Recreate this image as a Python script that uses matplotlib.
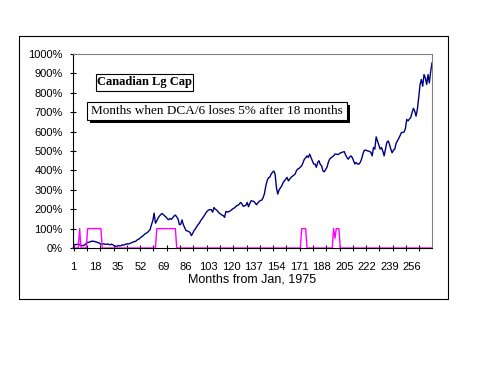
import numpy as np
import matplotlib.pyplot as plt
from matplotlib.patches import Rectangle

# Cumulative growth, Canadian large cap, one value per month from Jan 1975 (percent)
growth = [
    20, 18, 17, 19, 20, 17, 14, 12, 13, 18,
    24, 28, 30, 33, 35, 35, 34, 32, 30, 27,
    25, 18, 20, 22, 20, 19, 21, 18, 17, 20,
    16, 12, 10, 8, 13, 11, 12, 16, 15, 18,
    20, 22, 21, 24, 27, 30, 33, 34, 40, 45,
    48, 55, 60, 65, 72, 76, 80, 88, 95, 120,
    140, 180, 128, 140, 155, 165, 172, 178, 172, 165,
    160, 150, 146, 152, 148, 156, 165, 170, 160, 150,
    120, 122, 145, 120, 105, 90, 88, 85, 80, 64,
    75, 90, 98, 110, 120, 128, 141, 150, 160, 170,
    182, 190, 196, 198, 197, 185, 209, 200, 196, 188,
    180, 175, 170, 167, 158, 189, 185, 187, 190, 195,
    201, 205, 210, 218, 220, 226, 235, 228, 215, 218,
    220, 235, 213, 230, 244, 242, 240, 232, 223, 232,
    240, 245, 247, 260, 281, 320, 346, 362, 365, 381,
    390, 397, 381, 312, 278, 300, 310, 320, 337, 346,
    355, 364, 346, 355, 364, 370, 375, 381, 398, 407,
    410, 418, 424, 440, 458, 465, 475, 467, 484, 467,
    450, 433, 433, 416, 441, 450, 430, 424, 397, 393,
    405, 416, 441, 458, 465, 470, 475, 484, 484, 482,
    484, 490, 492, 495, 497, 480, 467, 458, 468, 475,
    467, 450, 433, 441, 433, 432, 441, 458, 484, 503,
    505, 502, 500, 498, 493, 475, 518, 510, 573, 552,
    530, 510, 518, 500, 475, 510, 544, 552, 535, 510,
    491, 505, 510, 540, 552, 565, 580, 595, 596, 598,
    616, 663, 655, 665, 672, 698, 720, 706, 680, 715,
    775, 843, 869, 834, 894, 877, 843, 894, 851, 910,
    954,
]

# Months flagged (DCA/6 loses 5% after 18 months) and the plotted flag level
loss_months = [6,
               12, 13, 14, 15, 16, 17, 18, 19, 20, 21, 22,
               64, 65, 66, 67, 68, 69, 70, 71, 72, 73, 74, 75, 76, 77, 78,
               173, 174, 175, 176,
               197, 198, 199, 200, 201]
loss_levels = [100,
               100, 100, 100, 100, 100, 100, 100, 100, 100, 100, 100,
               100, 100, 100, 100, 100, 100, 100, 100, 100, 100, 100, 100, 100, 100, 100,
               100, 100, 100, 100,
               100, 50, 100, 100, 100]

label_months = [1, 18, 35, 52, 69, 86, 103, 120, 137, 154, 171, 188, 205, 222, 239, 256]
y_ticks = [0, 100, 200, 300, 400, 500, 600, 700, 800, 900, 1000]

months = np.arange(1, len(growth) + 1)
flags = np.zeros(len(growth))
flags[np.array(loss_months) - 1] = loss_levels

plt.rcParams['font.family'] = ['Liberation Sans', 'DejaVu Sans']

fig = plt.figure(figsize=(5, 3.65), dpi=100)
ax = fig.add_axes([0.146, 0.3205, 0.718, 0.5315])

ax.plot(months, growth, color='#000080', lw=1.0)
ax.plot(months, flags, color='#ff00ff', lw=1.0, clip_on=False)

ax.set_xlim(1, len(growth))
ax.set_ylim(0, 1000)

ax.set_yticks(y_ticks)
ax.set_yticklabels([f"{v}%" for v in y_ticks])
ax.tick_params(axis='y', direction='inout', length=5, width=0.8, pad=5, labelsize=8)

ax.set_xticks(label_months)
ax.set_xticklabels([str(m) for m in label_months])
ax.tick_params(axis='x', which='major', length=0, pad=10, labelsize=8)
ax.set_xticks(np.arange(1.5, len(growth), 10), minor=True)
ax.tick_params(axis='x', which='minor', direction='inout', length=5, width=0.8)

for side in ['top', 'right']:
    ax.spines[side].set_color('#808080')
    ax.spines[side].set_linewidth(0.8)
for side in ['left', 'bottom']:
    ax.spines[side].set_linewidth(0.8)

fig.text(0.505, 1 - 279 / 365, "Months from Jan, 1975", ha='center', va='center', fontsize=9)

# outer chart frame
fig.add_artist(Rectangle((0.038, 0.181), 0.858, 0.7205, transform=fig.transFigure,
                         fill=False, ec='black', lw=0.8))

# title box
fig.add_artist(Rectangle((0.1914, 0.7515), 0.194, 0.0458, transform=fig.transFigure,
                         fc='white', ec='black', lw=0.8))
fig.text(0.2884, 0.7745, "Canadian Lg Cap", ha='center', va='center',
         family='Liberation Serif', weight='bold', fontsize=9)

# note box with shadow
fig.add_artist(Rectangle((0.1806, 0.6630), 0.5188, 0.0501, transform=fig.transFigure,
                         fc='black', ec='black', lw=0))
fig.add_artist(Rectangle((0.1746, 0.6712), 0.5188, 0.0501, transform=fig.transFigure,
                         fc='white', ec='black', lw=0.8))
fig.text(0.434, 0.6964, "Months when DCA/6 loses 5% after 18 months", ha='center', va='center',
         family='Liberation Serif', fontsize=9.5)

fig.savefig('out.png', dpi=100)
